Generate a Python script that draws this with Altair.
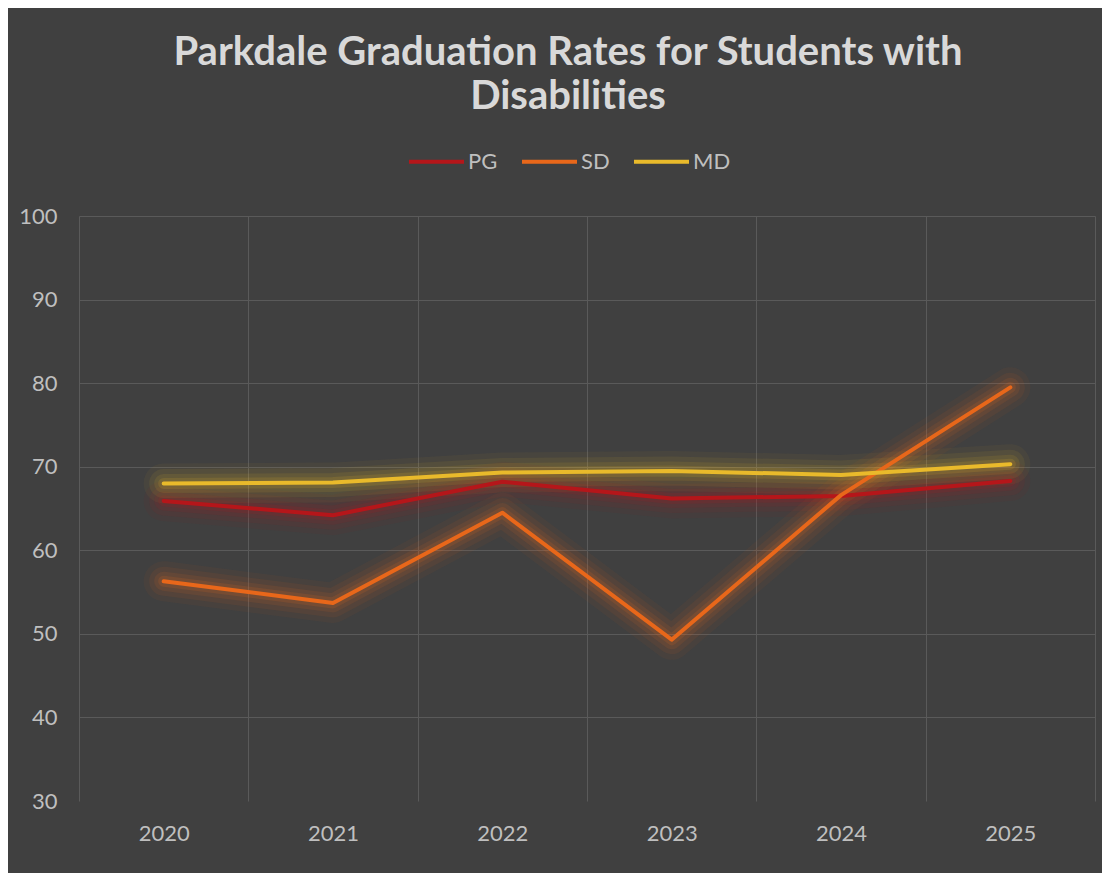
import altair as alt
import pandas as pd

years = ["2020", "2021", "2022", "2023", "2024", "2025"]
series = ["PG", "SD", "MD"]
pg = [65.9, 64.2, 68.2, 66.2, 66.5, 68.3]
sd = [56.3, 53.7, 64.5, 49.3, 66.6, 79.5]
md = [68.0, 68.1, 69.3, 69.5, 69.0, 70.3]
colors = ["#B5161A", "#E8671A", "#E9BA2B"]
y_ticks = [30, 40, 50, 60, 70, 80, 90, 100]

rows = []
for name, vals in zip(series, [pg, sd, md]):
    for yr, v in zip(years, vals):
        rows.append({"Year": yr, "Series": name, "Value": v})
df = pd.DataFrame(rows)

FONT = "Lato"
LABEL_COLOR = "#BFBFBF"
GRID_COLOR = "#5A5A5A"

x_enc = alt.X(
    "Year:O",
    sort=years,
    scale=alt.Scale(type="band", paddingInner=0, paddingOuter=0),
    axis=alt.Axis(
        title=None, labelAngle=0, tickBand="extent", grid=True, gridColor=GRID_COLOR,
        domain=False, ticks=False, labelPadding=22, labelFontSize=22,
        labelColor=LABEL_COLOR, labelFont=FONT,
    ),
)
y_enc = alt.Y(
    "Value:Q",
    scale=alt.Scale(domain=[30, 100], nice=False, zero=False),
    axis=alt.Axis(
        title=None, values=y_ticks, grid=True, gridColor=GRID_COLOR,
        gridOpacity={"expr": "datum.value == 30 ? 0 : 1"},
        domain=False, ticks=False, labelPadding=22, labelFontSize=22,
        labelColor=LABEL_COLOR, labelFont=FONT,
    ),
)

base = alt.Chart(df).encode(x=x_enc, y=y_enc)

glow_layers = []
for name, col in zip(series, colors):
    for w, op in [(40, 0.05), (29, 0.08), (19, 0.1), (11, 0.14)]:
        glow_layers.append(
            base.transform_filter(alt.datum.Series == name).mark_line(
                strokeWidth=w, opacity=op, strokeCap="round", strokeJoin="round", color=col
            )
        )

main = base.mark_line(strokeWidth=4, strokeCap="round", strokeJoin="round").encode(
    color=alt.Color(
        "Series:N",
        scale=alt.Scale(domain=series, range=colors),
        legend=alt.Legend(
            title=None, orient="none", direction="horizontal", legendX=328, legendY=-84,
            symbolType="stroke", symbolSize=3025, symbolStrokeWidth=4,
            labelFontSize=22, labelColor=LABEL_COLOR, labelFont=FONT,
            labelOffset=2, columnPadding=16, padding=0,
        ),
    )
)

chart = alt.layer(*glow_layers, main).properties(
    width=1016,
    height=585,
    autosize=alt.AutoSizeParams(type="none"),
    padding={"left": 71, "top": 208, "right": 7, "bottom": 72},
    background="#404040",
    title=alt.Title(
        ["Parkdale Graduation Rates for Students with", "Disabilities"],
        fontSize=40, font=FONT, fontWeight="bold", color="#D9D9D9",
        anchor="middle", lineHeight=44, offset=15, dx=-19,
    ),
).configure_view(stroke=None)

chart.save("out.html", embed_options={"renderer": "svg", "actions": False})
